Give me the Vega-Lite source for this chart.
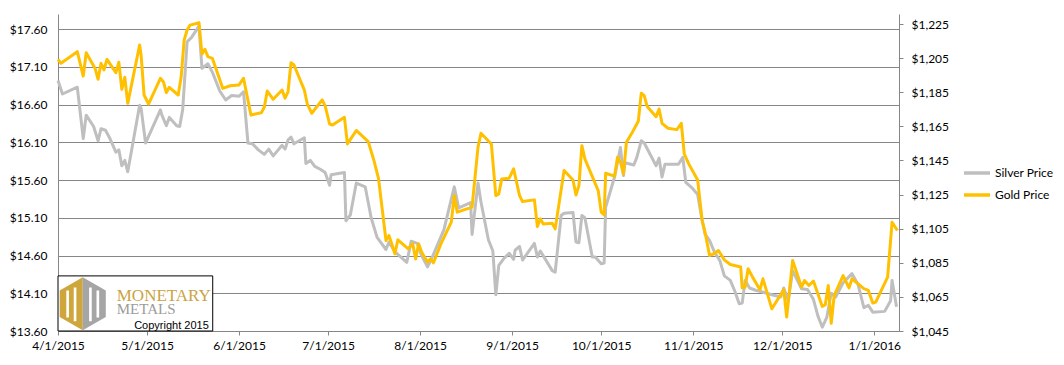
{
  "$schema": "https://vega.github.io/schema/vega-lite/v6.json",
  "width": 841,
  "height": 317,
  "autosize": {"type": "none"},
  "padding": {"left": 58, "top": 14, "right": 165, "bottom": 34},
  "background": "white",
  "config": {
    "font": "Lato",
    "view": {"stroke": null},
    "axis": {"labelFontSize": 12, "labelColor": "#000000", "labelFont": "Lato", "domainColor": "#868686", "tickColor": "#868686", "labelFlush": false, "labelOverlap": false}
  },
  "datasets": {
    "silver": [
      {"date": "2015-04-01T00:00Z", "price": 16.92},
      {"date": "2015-04-02T12:00Z", "price": 16.74},
      {"date": "2015-04-07T12:00Z", "price": 16.83},
      {"date": "2015-04-09T12:00Z", "price": 16.15},
      {"date": "2015-04-10T12:00Z", "price": 16.46},
      {"date": "2015-04-13T00:00Z", "price": 16.31},
      {"date": "2015-04-14T12:00Z", "price": 16.12},
      {"date": "2015-04-15T12:00Z", "price": 16.28},
      {"date": "2015-04-17T00:00Z", "price": 16.26},
      {"date": "2015-04-18T12:00Z", "price": 16.15},
      {"date": "2015-04-20T12:00Z", "price": 15.97},
      {"date": "2015-04-21T12:00Z", "price": 16.00},
      {"date": "2015-04-22T12:00Z", "price": 15.79},
      {"date": "2015-04-23T12:00Z", "price": 15.86},
      {"date": "2015-04-24T12:00Z", "price": 15.71},
      {"date": "2015-04-28T12:00Z", "price": 16.59},
      {"date": "2015-04-29T00:00Z", "price": 16.55},
      {"date": "2015-04-30T12:00Z", "price": 16.09},
      {"date": "2015-05-05T12:00Z", "price": 16.53},
      {"date": "2015-05-06T00:00Z", "price": 16.46},
      {"date": "2015-05-07T12:00Z", "price": 16.32},
      {"date": "2015-05-08T12:00Z", "price": 16.43},
      {"date": "2015-05-11T00:00Z", "price": 16.32},
      {"date": "2015-05-12T00:00Z", "price": 16.31},
      {"date": "2015-05-13T00:00Z", "price": 16.53},
      {"date": "2015-05-14T12:00Z", "price": 17.43},
      {"date": "2015-05-16T00:00Z", "price": 17.49},
      {"date": "2015-05-18T12:00Z", "price": 17.64},
      {"date": "2015-05-19T12:00Z", "price": 17.08},
      {"date": "2015-05-21T12:00Z", "price": 17.14},
      {"date": "2015-05-23T00:00Z", "price": 17.03},
      {"date": "2015-05-25T12:00Z", "price": 16.78},
      {"date": "2015-05-27T12:00Z", "price": 16.66},
      {"date": "2015-05-29T12:00Z", "price": 16.72},
      {"date": "2015-06-01T00:00Z", "price": 16.71},
      {"date": "2015-06-02T12:00Z", "price": 16.77},
      {"date": "2015-06-04T00:00Z", "price": 16.09},
      {"date": "2015-06-05T12:00Z", "price": 16.08},
      {"date": "2015-06-07T12:00Z", "price": 16.00},
      {"date": "2015-06-09T12:00Z", "price": 15.94},
      {"date": "2015-06-11T00:00Z", "price": 16.01},
      {"date": "2015-06-12T12:00Z", "price": 15.92},
      {"date": "2015-06-15T12:00Z", "price": 16.06},
      {"date": "2015-06-16T12:00Z", "price": 16.01},
      {"date": "2015-06-17T12:00Z", "price": 16.13},
      {"date": "2015-06-18T12:00Z", "price": 16.17},
      {"date": "2015-06-19T12:00Z", "price": 16.08},
      {"date": "2015-06-23T00:00Z", "price": 16.16},
      {"date": "2015-06-23T12:00Z", "price": 15.82},
      {"date": "2015-06-25T00:00Z", "price": 15.86},
      {"date": "2015-06-26T12:00Z", "price": 15.78},
      {"date": "2015-06-28T12:00Z", "price": 15.74},
      {"date": "2015-06-30T00:00Z", "price": 15.70},
      {"date": "2015-07-01T12:00Z", "price": 15.53},
      {"date": "2015-07-02T00:00Z", "price": 15.67},
      {"date": "2015-07-05T00:00Z", "price": 15.69},
      {"date": "2015-07-06T12:00Z", "price": 15.70},
      {"date": "2015-07-07T00:00Z", "price": 15.06},
      {"date": "2015-07-08T12:00Z", "price": 15.14},
      {"date": "2015-07-10T12:00Z", "price": 15.56},
      {"date": "2015-07-13T12:00Z", "price": 15.51},
      {"date": "2015-07-15T12:00Z", "price": 15.10},
      {"date": "2015-07-17T12:00Z", "price": 14.84},
      {"date": "2015-07-20T12:00Z", "price": 14.68},
      {"date": "2015-07-21T12:00Z", "price": 14.78},
      {"date": "2015-07-23T12:00Z", "price": 14.65},
      {"date": "2015-07-27T12:00Z", "price": 14.51},
      {"date": "2015-07-29T00:00Z", "price": 14.79},
      {"date": "2015-07-31T00:00Z", "price": 14.76},
      {"date": "2015-08-01T12:00Z", "price": 14.60},
      {"date": "2015-08-03T12:00Z", "price": 14.45},
      {"date": "2015-08-05T00:00Z", "price": 14.57},
      {"date": "2015-08-09T00:00Z", "price": 14.94},
      {"date": "2015-08-12T12:00Z", "price": 15.51},
      {"date": "2015-08-14T00:00Z", "price": 15.23},
      {"date": "2015-08-18T00:00Z", "price": 15.30},
      {"date": "2015-08-18T12:00Z", "price": 14.88},
      {"date": "2015-08-20T12:00Z", "price": 15.56},
      {"date": "2015-08-21T12:00Z", "price": 15.31},
      {"date": "2015-08-24T00:00Z", "price": 14.81},
      {"date": "2015-08-25T12:00Z", "price": 14.66},
      {"date": "2015-08-26T12:00Z", "price": 14.08},
      {"date": "2015-08-27T12:00Z", "price": 14.47},
      {"date": "2015-08-29T00:00Z", "price": 14.55},
      {"date": "2015-08-31T00:00Z", "price": 14.63},
      {"date": "2015-09-01T12:00Z", "price": 14.55},
      {"date": "2015-09-02T00:00Z", "price": 14.67},
      {"date": "2015-09-03T12:00Z", "price": 14.72},
      {"date": "2015-09-04T12:00Z", "price": 14.54},
      {"date": "2015-09-08T12:00Z", "price": 14.76},
      {"date": "2015-09-09T12:00Z", "price": 14.58},
      {"date": "2015-09-10T12:00Z", "price": 14.66},
      {"date": "2015-09-14T12:00Z", "price": 14.40},
      {"date": "2015-09-15T12:00Z", "price": 14.38},
      {"date": "2015-09-17T12:00Z", "price": 15.13},
      {"date": "2015-09-18T12:00Z", "price": 15.16},
      {"date": "2015-09-21T12:00Z", "price": 15.17},
      {"date": "2015-09-22T12:00Z", "price": 14.78},
      {"date": "2015-09-23T12:00Z", "price": 14.77},
      {"date": "2015-09-24T12:00Z", "price": 15.13},
      {"date": "2015-09-25T12:00Z", "price": 15.10},
      {"date": "2015-09-28T00:00Z", "price": 14.58},
      {"date": "2015-09-29T00:00Z", "price": 14.58},
      {"date": "2015-10-01T00:00Z", "price": 14.49},
      {"date": "2015-10-02T00:00Z", "price": 14.50},
      {"date": "2015-10-02T12:00Z", "price": 15.24},
      {"date": "2015-10-05T12:00Z", "price": 15.64},
      {"date": "2015-10-07T12:00Z", "price": 16.03},
      {"date": "2015-10-08T12:00Z", "price": 15.66},
      {"date": "2015-10-09T00:00Z", "price": 15.83},
      {"date": "2015-10-12T00:00Z", "price": 15.80},
      {"date": "2015-10-13T00:00Z", "price": 15.90},
      {"date": "2015-10-14T12:00Z", "price": 16.12},
      {"date": "2015-10-15T12:00Z", "price": 16.09},
      {"date": "2015-10-19T12:00Z", "price": 15.79},
      {"date": "2015-10-20T12:00Z", "price": 15.89},
      {"date": "2015-10-21T12:00Z", "price": 15.64},
      {"date": "2015-10-22T12:00Z", "price": 15.81},
      {"date": "2015-10-27T00:00Z", "price": 15.81},
      {"date": "2015-10-28T12:00Z", "price": 15.90},
      {"date": "2015-10-29T12:00Z", "price": 15.57},
      {"date": "2015-10-31T12:00Z", "price": 15.50},
      {"date": "2015-11-02T12:00Z", "price": 15.41},
      {"date": "2015-11-04T00:00Z", "price": 15.07},
      {"date": "2015-11-05T00:00Z", "price": 14.88},
      {"date": "2015-11-06T12:00Z", "price": 14.80},
      {"date": "2015-11-08T00:00Z", "price": 14.66},
      {"date": "2015-11-10T00:00Z", "price": 14.53},
      {"date": "2015-11-11T12:00Z", "price": 14.33},
      {"date": "2015-11-13T12:00Z", "price": 14.27},
      {"date": "2015-11-15T00:00Z", "price": 14.13},
      {"date": "2015-11-16T12:00Z", "price": 13.96},
      {"date": "2015-11-17T12:00Z", "price": 13.97},
      {"date": "2015-11-18T12:00Z", "price": 14.27},
      {"date": "2015-11-20T00:00Z", "price": 14.17},
      {"date": "2015-11-22T00:00Z", "price": 14.14},
      {"date": "2015-11-24T00:00Z", "price": 14.12},
      {"date": "2015-11-27T12:00Z", "price": 14.08},
      {"date": "2015-11-30T12:00Z", "price": 14.05},
      {"date": "2015-12-01T12:00Z", "price": 14.17},
      {"date": "2015-12-03T00:00Z", "price": 14.00},
      {"date": "2015-12-04T12:00Z", "price": 14.40},
      {"date": "2015-12-07T12:00Z", "price": 14.16},
      {"date": "2015-12-09T12:00Z", "price": 14.15},
      {"date": "2015-12-11T12:00Z", "price": 14.02},
      {"date": "2015-12-13T00:00Z", "price": 13.80},
      {"date": "2015-12-14T12:00Z", "price": 13.65},
      {"date": "2015-12-16T00:00Z", "price": 13.78},
      {"date": "2015-12-17T12:00Z", "price": 14.10},
      {"date": "2015-12-19T00:00Z", "price": 14.05},
      {"date": "2015-12-21T12:00Z", "price": 14.24},
      {"date": "2015-12-24T12:00Z", "price": 14.36},
      {"date": "2015-12-26T12:00Z", "price": 14.22},
      {"date": "2015-12-28T12:00Z", "price": 13.91},
      {"date": "2015-12-30T00:00Z", "price": 13.94},
      {"date": "2015-12-31T12:00Z", "price": 13.85},
      {"date": "2016-01-04T12:00Z", "price": 13.86},
      {"date": "2016-01-06T12:00Z", "price": 14.00},
      {"date": "2016-01-07T00:00Z", "price": 14.27},
      {"date": "2016-01-08T12:00Z", "price": 13.92}
    ],
    "gold": [
      {"date": "2015-04-01T00:00Z", "price": 1204.3},
      {"date": "2015-04-02T00:00Z", "price": 1202.0},
      {"date": "2015-04-07T12:00Z", "price": 1208.8},
      {"date": "2015-04-09T12:00Z", "price": 1194.5},
      {"date": "2015-04-10T12:00Z", "price": 1208.2},
      {"date": "2015-04-13T12:00Z", "price": 1199.0},
      {"date": "2015-04-14T12:00Z", "price": 1192.6},
      {"date": "2015-04-15T12:00Z", "price": 1202.0},
      {"date": "2015-04-16T12:00Z", "price": 1198.1},
      {"date": "2015-04-17T12:00Z", "price": 1204.3},
      {"date": "2015-04-20T12:00Z", "price": 1196.5},
      {"date": "2015-04-21T12:00Z", "price": 1202.6},
      {"date": "2015-04-22T12:00Z", "price": 1186.7},
      {"date": "2015-04-23T12:00Z", "price": 1193.8},
      {"date": "2015-04-24T12:00Z", "price": 1178.5},
      {"date": "2015-04-28T12:00Z", "price": 1212.7},
      {"date": "2015-04-29T00:00Z", "price": 1206.8},
      {"date": "2015-04-30T00:00Z", "price": 1183.4},
      {"date": "2015-05-01T12:00Z", "price": 1178.1},
      {"date": "2015-05-05T12:00Z", "price": 1193.2},
      {"date": "2015-05-06T12:00Z", "price": 1191.2},
      {"date": "2015-05-07T12:00Z", "price": 1184.8},
      {"date": "2015-05-08T12:00Z", "price": 1187.9},
      {"date": "2015-05-11T12:00Z", "price": 1183.4},
      {"date": "2015-05-12T12:00Z", "price": 1194.1},
      {"date": "2015-05-13T12:00Z", "price": 1215.6},
      {"date": "2015-05-14T12:00Z", "price": 1221.5},
      {"date": "2015-05-15T12:00Z", "price": 1224.4},
      {"date": "2015-05-18T12:00Z", "price": 1225.8},
      {"date": "2015-05-19T12:00Z", "price": 1207.4},
      {"date": "2015-05-20T12:00Z", "price": 1210.2},
      {"date": "2015-05-21T12:00Z", "price": 1205.9},
      {"date": "2015-05-23T00:00Z", "price": 1204.9},
      {"date": "2015-05-26T12:00Z", "price": 1187.3},
      {"date": "2015-05-29T00:00Z", "price": 1188.8},
      {"date": "2015-06-01T00:00Z", "price": 1189.3},
      {"date": "2015-06-02T12:00Z", "price": 1193.2},
      {"date": "2015-06-05T00:00Z", "price": 1171.7},
      {"date": "2015-06-08T12:00Z", "price": 1173.0},
      {"date": "2015-06-09T12:00Z", "price": 1176.2},
      {"date": "2015-06-10T12:00Z", "price": 1185.7},
      {"date": "2015-06-12T12:00Z", "price": 1180.9},
      {"date": "2015-06-15T12:00Z", "price": 1186.3},
      {"date": "2015-06-16T12:00Z", "price": 1181.5},
      {"date": "2015-06-17T12:00Z", "price": 1185.3},
      {"date": "2015-06-18T12:00Z", "price": 1202.3},
      {"date": "2015-06-19T12:00Z", "price": 1201.0},
      {"date": "2015-06-23T00:00Z", "price": 1186.3},
      {"date": "2015-06-24T00:00Z", "price": 1178.0},
      {"date": "2015-06-25T12:00Z", "price": 1172.7},
      {"date": "2015-06-29T00:00Z", "price": 1180.5},
      {"date": "2015-06-30T00:00Z", "price": 1177.0},
      {"date": "2015-07-01T12:00Z", "price": 1166.4},
      {"date": "2015-07-02T12:00Z", "price": 1165.8},
      {"date": "2015-07-06T12:00Z", "price": 1170.3},
      {"date": "2015-07-07T12:00Z", "price": 1154.7},
      {"date": "2015-07-10T12:00Z", "price": 1162.6},
      {"date": "2015-07-14T12:00Z", "price": 1156.1},
      {"date": "2015-07-16T12:00Z", "price": 1144.6},
      {"date": "2015-07-18T00:00Z", "price": 1134.2},
      {"date": "2015-07-20T12:00Z", "price": 1098.1},
      {"date": "2015-07-21T12:00Z", "price": 1101.0},
      {"date": "2015-07-23T12:00Z", "price": 1090.3},
      {"date": "2015-07-24T12:00Z", "price": 1098.5},
      {"date": "2015-07-28T00:00Z", "price": 1093.2},
      {"date": "2015-07-29T12:00Z", "price": 1096.1},
      {"date": "2015-07-30T12:00Z", "price": 1087.3},
      {"date": "2015-07-31T12:00Z", "price": 1096.1},
      {"date": "2015-08-01T12:00Z", "price": 1091.3},
      {"date": "2015-08-03T12:00Z", "price": 1085.4},
      {"date": "2015-08-04T12:00Z", "price": 1087.3},
      {"date": "2015-08-05T12:00Z", "price": 1085.0},
      {"date": "2015-08-08T00:00Z", "price": 1096.1},
      {"date": "2015-08-11T12:00Z", "price": 1108.8},
      {"date": "2015-08-12T12:00Z", "price": 1124.4},
      {"date": "2015-08-13T12:00Z", "price": 1114.7},
      {"date": "2015-08-18T12:00Z", "price": 1117.6},
      {"date": "2015-08-20T12:00Z", "price": 1152.8},
      {"date": "2015-08-21T12:00Z", "price": 1161.0},
      {"date": "2015-08-25T00:00Z", "price": 1154.7},
      {"date": "2015-08-26T12:00Z", "price": 1124.4},
      {"date": "2015-08-27T12:00Z", "price": 1125.4},
      {"date": "2015-08-28T12:00Z", "price": 1134.2},
      {"date": "2015-08-31T00:00Z", "price": 1134.6},
      {"date": "2015-09-01T12:00Z", "price": 1140.1},
      {"date": "2015-09-03T12:00Z", "price": 1124.4},
      {"date": "2015-09-04T12:00Z", "price": 1120.9},
      {"date": "2015-09-08T12:00Z", "price": 1121.9},
      {"date": "2015-09-09T12:00Z", "price": 1106.3},
      {"date": "2015-09-10T12:00Z", "price": 1110.8},
      {"date": "2015-09-11T12:00Z", "price": 1107.8},
      {"date": "2015-09-14T12:00Z", "price": 1108.2},
      {"date": "2015-09-15T12:00Z", "price": 1104.9},
      {"date": "2015-09-18T12:00Z", "price": 1139.1},
      {"date": "2015-09-21T12:00Z", "price": 1133.6},
      {"date": "2015-09-22T12:00Z", "price": 1124.8},
      {"date": "2015-09-23T12:00Z", "price": 1130.3},
      {"date": "2015-09-24T12:00Z", "price": 1153.7},
      {"date": "2015-09-25T12:00Z", "price": 1145.9},
      {"date": "2015-09-30T00:00Z", "price": 1127.3},
      {"date": "2015-10-01T00:00Z", "price": 1114.7},
      {"date": "2015-10-02T00:00Z", "price": 1113.1},
      {"date": "2015-10-02T12:00Z", "price": 1137.5},
      {"date": "2015-10-05T12:00Z", "price": 1135.8},
      {"date": "2015-10-06T12:00Z", "price": 1146.9},
      {"date": "2015-10-07T12:00Z", "price": 1144.0},
      {"date": "2015-10-08T12:00Z", "price": 1137.1},
      {"date": "2015-10-09T12:00Z", "price": 1155.7},
      {"date": "2015-10-11T12:00Z", "price": 1161.6},
      {"date": "2015-10-13T12:00Z", "price": 1168.0},
      {"date": "2015-10-14T12:00Z", "price": 1184.4},
      {"date": "2015-10-15T12:00Z", "price": 1183.0},
      {"date": "2015-10-16T12:00Z", "price": 1176.6},
      {"date": "2015-10-19T12:00Z", "price": 1170.7},
      {"date": "2015-10-20T12:00Z", "price": 1175.2},
      {"date": "2015-10-21T12:00Z", "price": 1166.8},
      {"date": "2015-10-23T12:00Z", "price": 1163.9},
      {"date": "2015-10-26T12:00Z", "price": 1163.1},
      {"date": "2015-10-28T00:00Z", "price": 1166.8},
      {"date": "2015-10-29T00:00Z", "price": 1148.8},
      {"date": "2015-10-30T12:00Z", "price": 1143.0},
      {"date": "2015-11-02T12:00Z", "price": 1133.6},
      {"date": "2015-11-04T00:00Z", "price": 1109.8},
      {"date": "2015-11-05T00:00Z", "price": 1103.0},
      {"date": "2015-11-06T12:00Z", "price": 1089.3},
      {"date": "2015-11-08T00:00Z", "price": 1090.3},
      {"date": "2015-11-09T12:00Z", "price": 1092.2},
      {"date": "2015-11-11T12:00Z", "price": 1086.7},
      {"date": "2015-11-13T12:00Z", "price": 1084.0},
      {"date": "2015-11-17T00:00Z", "price": 1082.5},
      {"date": "2015-11-17T12:00Z", "price": 1070.3},
      {"date": "2015-11-18T12:00Z", "price": 1070.8},
      {"date": "2015-11-19T12:00Z", "price": 1081.5},
      {"date": "2015-11-21T00:00Z", "price": 1076.6},
      {"date": "2015-11-23T12:00Z", "price": 1069.2},
      {"date": "2015-11-24T12:00Z", "price": 1075.6},
      {"date": "2015-11-27T12:00Z", "price": 1058.0},
      {"date": "2015-12-01T12:00Z", "price": 1069.2},
      {"date": "2015-12-02T12:00Z", "price": 1053.2},
      {"date": "2015-12-04T12:00Z", "price": 1086.3},
      {"date": "2015-12-07T12:00Z", "price": 1070.8},
      {"date": "2015-12-08T12:00Z", "price": 1074.6},
      {"date": "2015-12-10T00:00Z", "price": 1071.7},
      {"date": "2015-12-11T12:00Z", "price": 1074.3},
      {"date": "2015-12-14T12:00Z", "price": 1059.4},
      {"date": "2015-12-15T12:00Z", "price": 1060.4},
      {"date": "2015-12-16T12:00Z", "price": 1071.7},
      {"date": "2015-12-17T12:00Z", "price": 1049.5},
      {"date": "2015-12-18T12:00Z", "price": 1065.8},
      {"date": "2015-12-21T12:00Z", "price": 1077.5},
      {"date": "2015-12-23T12:00Z", "price": 1070.3},
      {"date": "2015-12-24T12:00Z", "price": 1075.6},
      {"date": "2015-12-28T12:00Z", "price": 1069.8},
      {"date": "2015-12-30T00:00Z", "price": 1068.8},
      {"date": "2015-12-31T12:00Z", "price": 1061.4},
      {"date": "2016-01-01T12:00Z", "price": 1061.9},
      {"date": "2016-01-05T12:00Z", "price": 1076.6},
      {"date": "2016-01-07T00:00Z", "price": 1108.8},
      {"date": "2016-01-08T19:00Z", "price": 1103.9}
    ]
  },
  "layer": [
    {
      "layer": [
        {
          "data": {"name": "silver"},
          "mark": {"type": "line", "strokeWidth": 3, "strokeJoin": "round"},
          "encoding": {
            "x": {
              "field": "date", "type": "temporal",
              "scale": {"type": "utc", "domain": [{"year": 2015, "month": 4, "date": 1, "utc": true}, {"year": 2016, "month": 1, "date": 9, "hours": 8, "utc": true}], "nice": false},
              "axis": {
                "values": [
                  {"year": 2015, "month": 4, "date": 1, "utc": true},
                  {"year": 2015, "month": 5, "date": 1, "utc": true},
                  {"year": 2015, "month": 6, "date": 1, "utc": true},
                  {"year": 2015, "month": 7, "date": 1, "utc": true},
                  {"year": 2015, "month": 8, "date": 1, "utc": true},
                  {"year": 2015, "month": 9, "date": 1, "utc": true},
                  {"year": 2015, "month": 10, "date": 1, "utc": true},
                  {"year": 2015, "month": 11, "date": 1, "utc": true},
                  {"year": 2015, "month": 12, "date": 1, "utc": true},
                  {"year": 2016, "month": 1, "date": 1, "utc": true}
                ],
                "tickCount": 30,
                "format": "%-m/%-d/%Y", "grid": false, "tickSize": 4, "labelPadding": 5, "title": null
              }
            },
            "y": {
              "field": "price", "type": "quantitative",
              "scale": {"domain": [13.6, 17.8], "nice": false, "zero": false},
              "axis": {
                "values": [13.6, 14.1, 14.6, 15.1, 15.6, 16.1, 16.6, 17.1, 17.6],
                "tickCount": 30,
                "format": "$.2f", "grid": true, "gridColor": "#868686", "gridWidth": 1,
                "ticks": false, "tickSize": 0, "labelPadding": 11, "title": null
              }
            },
            "color": {
              "datum": "Silver Price", "type": "nominal",
              "scale": {"domain": ["Silver Price", "Gold Price"], "range": ["#BFBFBF", "#FFC000"]},
              "legend": {
                "title": null, "orient": "none", "legendX": 904, "legendY": 144,
                "symbolType": "stroke", "symbolSize": 676, "symbolStrokeWidth": 3.5,
                "labelFontSize": 12, "labelFont": "Lato", "labelColor": "#000000", "labelOffset": 3,
                "rowPadding": -2, "padding": 0
              }
            }
          }
        },
        {
          "data": {"values": [{}]},
          "mark": {"type": "rect", "fill": "white", "stroke": "black", "strokeWidth": 1},
          "encoding": {
            "x": {"datum": {"year": 2015, "month": 4, "date": 1, "utc": true}, "type": "temporal"},
            "x2": {"datum": {"year": 2015, "month": 5, "date": 23, "hours": 3, "utc": true}},
            "y": {"datum": 13.6, "type": "quantitative"},
            "y2": {"datum": 14.33}
          }
        },
        {
          "data": {"values": [{}]},
          "mark": {"type": "point", "shape": "M0,-1L-0.87,-0.5L-0.87,0.5L0,1ZM-0.62,-0.5L-0.52,-0.5L-0.52,0.52L-0.62,0.52ZM-0.34,-0.62L-0.24,-0.62L-0.24,0.66L-0.34,0.66Z", "filled": true, "color": "#CFA63C", "opacity": 1, "size": 2809, "strokeWidth": 0},
          "encoding": {
            "x": {"datum": {"year": 2015, "month": 4, "date": 9, "hours": 8, "utc": true}, "type": "temporal"},
            "y": {"datum": 13.96, "type": "quantitative"}
          }
        },
        {
          "data": {"values": [{}]},
          "mark": {"type": "point", "shape": "M0,-1L0,1L0.87,0.5L0.87,-0.5ZM0.24,-0.62L0.34,-0.62L0.34,0.66L0.24,0.66ZM0.52,-0.5L0.62,-0.5L0.62,0.52L0.52,0.52Z", "filled": true, "color": "#A5A5A5", "opacity": 1, "size": 2809, "strokeWidth": 0},
          "encoding": {
            "x": {"datum": {"year": 2015, "month": 4, "date": 9, "hours": 8, "utc": true}, "type": "temporal"},
            "y": {"datum": 13.96, "type": "quantitative"}
          }
        },
        {
          "data": {"values": [{}]},
          "mark": {"type": "text", "text": "MONETARY", "font": "Liberation Serif", "fontSize": 17, "color": "#CBA344", "align": "left", "baseline": "middle"},
          "encoding": {
            "x": {"datum": {"year": 2015, "month": 4, "date": 20, "hours": 19, "utc": true}, "type": "temporal"},
            "y": {"datum": 14.06, "type": "quantitative"}
          }
        },
        {
          "data": {"values": [{}]},
          "mark": {"type": "text", "text": "METALS", "font": "Liberation Serif", "fontSize": 15, "color": "#9B9B9B", "align": "left", "baseline": "middle"},
          "encoding": {
            "x": {"datum": {"year": 2015, "month": 4, "date": 20, "hours": 19, "utc": true}, "type": "temporal"},
            "y": {"datum": 13.89, "type": "quantitative"}
          }
        },
        {
          "data": {"values": [{}]},
          "mark": {"type": "text", "text": "Copyright 2015", "font": "Liberation Sans", "fontSize": 11, "color": "#000000", "align": "right", "baseline": "middle"},
          "encoding": {
            "x": {"datum": {"year": 2015, "month": 5, "date": 21, "hours": 19, "utc": true}, "type": "temporal"},
            "y": {"datum": 13.67, "type": "quantitative"}
          }
        }
      ]
    },
    {
      "data": {"name": "gold"},
      "mark": {"type": "line", "strokeWidth": 3, "strokeJoin": "round"},
      "encoding": {
        "x": {"field": "date", "type": "temporal"},
        "y": {
          "field": "price", "type": "quantitative",
          "scale": {"domain": [1045, 1230.9], "nice": false, "zero": false},
          "axis": {
            "orient": "right",
            "values": [1045, 1065, 1085, 1105, 1125, 1145, 1165, 1185, 1205, 1225],
            "tickCount": 30,
            "format": "$,.0f", "grid": false, "tickSize": 4, "labelPadding": 8, "title": null
          }
        },
        "color": {"datum": "Gold Price", "type": "nominal"}
      }
    }
  ],
  "resolve": {"scale": {"y": "independent"}}
}
